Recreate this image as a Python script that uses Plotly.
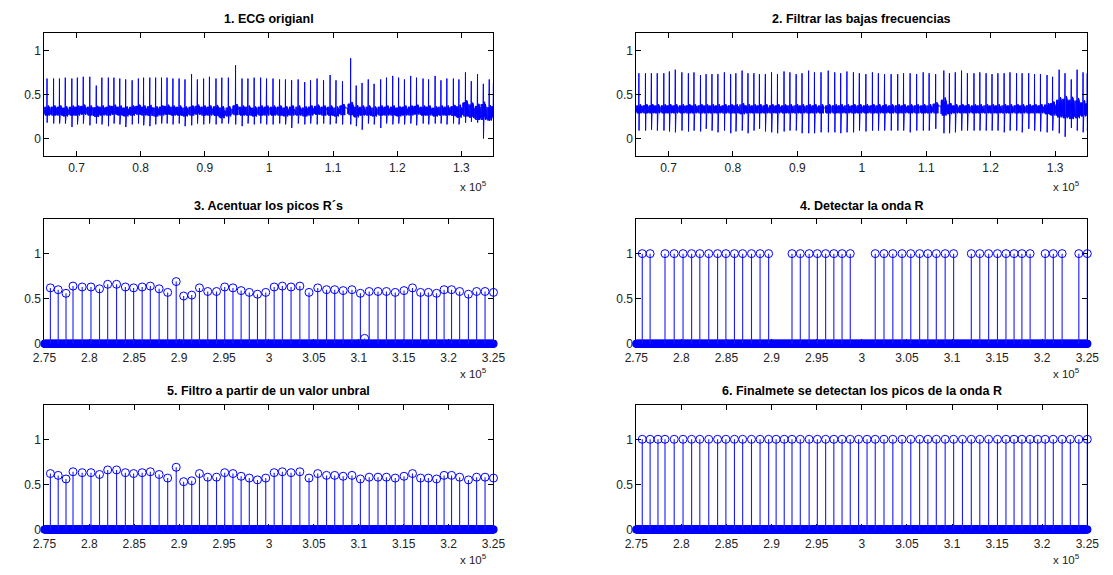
import plotly.graph_objects as go

W, H = 1113, 575
OFF = 8                      # page body margin of the written html
FW, FH = W - OFF, H - OFF
COL = [(33, 492), (638, 1099)]
ROW = [(33, 158), (222, 348), (410, 536)]
FONT = "Liberation Sans, Arial, Helvetica, sans-serif"
BLUE = "#0000ff"

# ---------------- top row: ECG (beats) ----------------
beat_pos = [65400, 66420, 67340, 68250, 69270, 70130, 71050, 72070, 73080, 73950,
            74960, 75830, 76740, 77660, 78670, 79640, 80450, 81420, 82330, 83250,
            84110, 85030, 85990, 86910, 87930, 88840, 89810, 90720, 91740, 92650,
            93670, 94790, 95800, 96720, 97690, 98700, 99620, 100630, 101650, 102570,
            103530, 104550, 105570, 106480, 107500, 108510, 109530, 110450, 111460, 112730,
            113600, 114510, 115480, 116390, 117410, 118320, 119290, 120210, 121120, 122090,
            123000, 124020, 124880, 125900, 126810, 127730, 128750, 129610, 130630, 131540,
            132510, 133420, 134340, 134990]

peaks1 = [0.68, 0.68, 0.68, 0.69, 0.68, 0.69, 0.70, 0.70, 0.60, 0.69,
          0.69, 0.69, 0.68, 0.67, 0.66, 0.68, 0.69, 0.69, 0.69, 0.69,
          0.69, 0.68, 0.68, 0.67, 0.73, 0.67, 0.68, 0.70, 0.68, 0.69,
          0.69, 0.83, 0.68, 0.68, 0.69, 0.69, 0.68, 0.68, 0.67, 0.67,
          0.66, 0.67, 0.64, 0.66, 0.68, 0.66, 0.72, 0.66, 0.65, 0.91,
          0.60, 0.63, 0.67, 0.62, 0.67, 0.69, 0.71, 0.69, 0.67, 0.71,
          0.69, 0.68, 0.67, 0.71, 0.66, 0.68, 0.68, 0.67, 0.75, 0.65,
          0.73, 0.62, 0.67, 0.63]
troughs1 = [0.18, 0.17, 0.17, 0.17, 0.13, 0.16, 0.17, 0.15, 0.17, 0.16,
            0.14, 0.17, 0.16, 0.13, 0.16, 0.17, 0.15, 0.14, 0.16, 0.17,
            0.17, 0.16, 0.17, 0.14, 0.15, 0.17, 0.16, 0.17, 0.16, 0.17,
            0.17, 0.16, 0.14, 0.17, 0.16, 0.17, 0.16, 0.16, 0.17, 0.16,
            0.12, 0.17, 0.16, 0.17, 0.16, 0.17, 0.16, 0.17, 0.16, 0.16,
            0.14, 0.10, 0.17, 0.16, 0.12, 0.17, 0.16, 0.17, 0.16, 0.17,
            0.15, 0.17, 0.16, 0.17, 0.17, 0.16, 0.17, 0.16, 0.18, 0.19,
            0.18, 0.00, 0.20, 0.22]
base1 = [0.31, 0.31, 0.31, 0.30, 0.31, 0.31, 0.32, 0.31, 0.30, 0.31,
         0.31, 0.32, 0.31, 0.30, 0.31, 0.32, 0.31, 0.31, 0.30, 0.31,
         0.32, 0.31, 0.31, 0.30, 0.31, 0.32, 0.31, 0.31, 0.31, 0.29,
         0.30, 0.32, 0.31, 0.31, 0.30, 0.31, 0.31, 0.31, 0.31, 0.30,
         0.31, 0.31, 0.30, 0.31, 0.32, 0.31, 0.31, 0.30, 0.32, 0.33,
         0.30, 0.31, 0.31, 0.30, 0.31, 0.31, 0.31, 0.30, 0.31, 0.31,
         0.32, 0.31, 0.31, 0.30, 0.31, 0.31, 0.31, 0.30, 0.33, 0.31,
         0.29, 0.30, 0.28, 0.30]
band1 = [0.05, 0.05, 0.05, 0.05, 0.05, 0.05, 0.05, 0.05, 0.055, 0.05,
         0.05, 0.05, 0.05, 0.05, 0.05, 0.05, 0.05, 0.055, 0.05, 0.05,
         0.05, 0.05, 0.05, 0.05, 0.05, 0.05, 0.05, 0.05, 0.055, 0.06,
         0.05, 0.055, 0.05, 0.05, 0.05, 0.05, 0.05, 0.05, 0.05, 0.05,
         0.05, 0.05, 0.05, 0.05, 0.05, 0.05, 0.05, 0.05, 0.055, 0.065,
         0.06, 0.05, 0.05, 0.05, 0.05, 0.05, 0.05, 0.05, 0.05, 0.05,
         0.05, 0.05, 0.05, 0.05, 0.05, 0.05, 0.055, 0.065, 0.08, 0.075,
         0.08, 0.09, 0.075, 0.065]

peaks2 = [0.74, 0.74, 0.74, 0.74, 0.74, 0.76, 0.78, 0.75, 0.74, 0.75,
          0.72, 0.73, 0.73, 0.73, 0.75, 0.73, 0.74, 0.77, 0.74, 0.74,
          0.73, 0.73, 0.75, 0.73, 0.76, 0.75, 0.73, 0.74, 0.77, 0.75,
          0.75, 0.77, 0.75, 0.74, 0.76, 0.75, 0.74, 0.73, 0.75, 0.74,
          0.73, 0.73, 0.73, 0.74, 0.74, 0.73, 0.75, 0.74, 0.73, 0.77,
          0.74, 0.75, 0.77, 0.74, 0.74, 0.75, 0.74, 0.73, 0.74, 0.74,
          0.75, 0.74, 0.74, 0.74, 0.73, 0.73, 0.72, 0.70, 0.78, 0.74,
          0.67, 0.78, 0.75, 0.74]
troughs2 = [0.09, 0.09, 0.10, 0.09, 0.09, 0.08, 0.07, 0.09, 0.08, 0.09,
            0.08, 0.11, 0.09, 0.07, 0.09, 0.06, 0.08, 0.09, 0.06, 0.09,
            0.11, 0.08, 0.07, 0.06, 0.08, 0.09, 0.09, 0.06, 0.06, 0.06,
            0.07, 0.07, 0.07, 0.06, 0.07, 0.07, 0.09, 0.08, 0.09, 0.09,
            0.09, 0.09, 0.09, 0.09, 0.07, 0.09, 0.09, 0.09, 0.11, 0.06,
            0.06, 0.07, 0.09, 0.09, 0.09, 0.09, 0.09, 0.09, 0.09, 0.07,
            0.09, 0.09, 0.07, 0.11, 0.09, 0.08, 0.07, 0.09, 0.06, 0.02,
            0.12, 0.09, 0.07, 0.09]
base2 = [0.33, 0.33, 0.33, 0.33, 0.33, 0.33, 0.33, 0.33, 0.33, 0.33,
         0.33, 0.33, 0.33, 0.33, 0.33, 0.33, 0.33, 0.33, 0.33, 0.33,
         0.33, 0.33, 0.33, 0.33, 0.33, 0.33, 0.33, 0.33, 0.33, 0.33,
         0.33, 0.33, 0.33, 0.33, 0.33, 0.33, 0.33, 0.33, 0.33, 0.33,
         0.33, 0.33, 0.33, 0.33, 0.33, 0.33, 0.33, 0.33, 0.34, 0.35,
         0.33, 0.33, 0.33, 0.33, 0.33, 0.33, 0.33, 0.33, 0.33, 0.33,
         0.33, 0.33, 0.33, 0.33, 0.33, 0.33, 0.33, 0.33, 0.34, 0.34,
         0.33, 0.33, 0.33, 0.33]
band2 = [0.045, 0.045, 0.045, 0.045, 0.045, 0.045, 0.045, 0.045, 0.045, 0.045,
         0.045, 0.045, 0.045, 0.045, 0.045, 0.045, 0.045, 0.055, 0.045, 0.045,
         0.045, 0.045, 0.045, 0.045, 0.045, 0.045, 0.045, 0.045, 0.045, 0.045,
         0.045, 0.045, 0.045, 0.045, 0.045, 0.045, 0.045, 0.045, 0.045, 0.045,
         0.045, 0.045, 0.045, 0.045, 0.045, 0.045, 0.045, 0.045, 0.055, 0.09,
         0.055, 0.045, 0.045, 0.045, 0.045, 0.045, 0.045, 0.045, 0.045, 0.045,
         0.045, 0.045, 0.045, 0.045, 0.045, 0.045, 0.055, 0.07, 0.10, 0.11,
         0.11, 0.10, 0.08, 0.07]

# beat waveform: sample offsets from R peak and relative band excursion ("R"/"S" = peak/trough)
wave_dx = [-450, -420, -390, -360, -330, -300, -270, -240, -210, -180, -150, -120, -90, -60, -30,
           0, 20, 50, 80, 110, 140, 170, 200, 230, 260, 290, 320, 350, 380, 410, 440]
wave_k = [0.2, -0.8, 0.9, -0.6, 1.0, -0.9, 0.7, -1.0, 0.9, -0.7, 1.0, -0.8, 0.6, -1.0, 0.8,
          "R", "S", -0.9, 0.8, -1.0, 1.1, -0.6, 1.3, -0.8, 1.2, -0.9, 1.0, -1.0, 0.8, -0.7, 0.5]

# ---------------- lower rows: stem plots ----------------
beat_x = [275660, 276530, 277400, 278180, 279200, 280180, 281130, 282040, 283030, 284010,
          284930, 285880, 286790, 287770, 288720, 289670, 290500, 291400, 292260, 293180,
          294160, 295070, 295990, 296900, 297810, 298720, 299640, 300580, 301490, 302460,
          303440, 304460, 305430, 306410, 307320, 308260, 309240, 310180, 311160, 312140,
          313080, 314060, 315040, 315980, 316880, 317750, 318660, 319500, 320330, 321230,
          322210, 323120, 324060, 325000]
r_strength = [0.62, 0.60, 0.56, 0.64, 0.63, 0.63, 0.61, 0.66, 0.66, 0.63,
              0.62, 0.63, 0.64, 0.61, 0.57, 0.69, 0.53, 0.54, 0.62, 0.58,
              0.58, 0.63, 0.62, 0.59, 0.57, 0.55, 0.57, 0.63, 0.64, 0.63,
              0.64, 0.57, 0.62, 0.60, 0.60, 0.59, 0.60, 0.56, 0.58, 0.58,
              0.58, 0.57, 0.59, 0.62, 0.57, 0.57, 0.56, 0.60, 0.60, 0.58,
              0.55, 0.58, 0.58, 0.57]
extra_x = [310650]
extra_v = [0.06]
detected = [1, 1, 0, 1, 1, 1, 1, 1, 1, 1,
            1, 1, 1, 1, 1, 1, 0, 0, 1, 1,
            1, 1, 1, 1, 1, 1, 0, 0, 1, 1,
            1, 1, 1, 1, 1, 1, 1, 1, 0, 1,
            1, 1, 1, 1, 1, 1, 1, 0, 1, 1,
            1, 0, 1, 1]
final_peaks = [1, 1, 1, 1, 1, 1, 1, 1, 1, 1,
               1, 1, 1, 1, 1, 1, 1, 1, 1, 1,
               1, 1, 1, 1, 1, 1, 1, 1, 1, 1,
               1, 1, 1, 1, 1, 1, 1, 1, 1, 1,
               1, 1, 1, 1, 1, 1, 1, 1, 1, 1,
               1, 1, 1, 1]
stem_start, stem_end, stem_step = 275000, 325000, 50   # zero-valued samples of the stem signal

top_ticks = [70000, 80000, 90000, 100000, 110000, 120000, 130000]
top_ticktext = ["0.7", "0.8", "0.9", "1", "1.1", "1.2", "1.3"]
bot_ticks = [275000, 280000, 285000, 290000, 295000, 300000, 305000, 310000, 315000, 320000, 325000]
bot_ticktext = ["2.75", "2.8", "2.85", "2.9", "2.95", "3", "3.05", "3.1", "3.15", "3.2", "3.25"]
y_ticks = [0, 0.5, 1]
y_ticktext = ["0", "0.5", "1"]

titles = ["1. ECG origianl", "2. Filtrar las bajas frecuencias",
          "3. Acentuar los picos R\u00b4s", "4. Detectar la onda R",
          "5. Filtro a partir de un valor unbral",
          "6. Finalmete se detectan los picos de la onda R"]


def px(p):
    return (p - OFF) / FW


def py(p):
    return 1 - (p - OFF) / FH


def ecg_series(peaks, troughs, base, band):
    pts = []
    for i, b in enumerate(beat_pos):
        for dx, k in zip(wave_dx, wave_k):
            if k == "R":
                v = peaks[i]
            elif k == "S":
                v = troughs[i]
            else:
                v = base[i] + band[i] * k
            pts.append((b + dx, v))
    pts.sort(key=lambda p: p[0])
    return [p[0] for p in pts], [p[1] for p in pts]


def stem_traces(xs, vs, ax):
    xa, ya = ("x" + ax, "y" + ax)
    zx = list(range(stem_start, stem_end + 1, stem_step))
    zt = go.Scatter(x=zx, y=[0] * len(zx), mode="markers", xaxis=xa, yaxis=ya,
                    marker=dict(symbol="circle-open", size=7, color=BLUE, line=dict(width=1.2, color=BLUE)),
                    cliponaxis=False, showlegend=False, hoverinfo="skip")
    sx, sy, mx, my = [], [], [], []
    for x, v in zip(xs, vs):
        if v != 0:
            sx += [x, x, None]
            sy += [0, v, None]
            mx.append(x)
            my.append(v)
    lt = go.Scatter(x=sx, y=sy, mode="lines", xaxis=xa, yaxis=ya,
                    line=dict(color="#1a1aff", width=1.1), showlegend=False, hoverinfo="skip")
    mt = go.Scatter(x=mx, y=my, mode="markers", xaxis=xa, yaxis=ya,
                    marker=dict(symbol="circle-open", size=8, color=BLUE, line=dict(width=1, color=BLUE)),
                    cliponaxis=False, showlegend=False)
    return [zt, lt, mt]


fig = go.Figure()
e1x, e1y = ecg_series(peaks1, troughs1, base1, band1)
e2x, e2y = ecg_series(peaks2, troughs2, base2, band2)
fig.add_trace(go.Scatter(x=e1x, y=e1y, mode="lines", line=dict(color=BLUE, width=1),
                         xaxis="x", yaxis="y", showlegend=False))
fig.add_trace(go.Scatter(x=e2x, y=e2y, mode="lines", line=dict(color=BLUE, width=1),
                         xaxis="x2", yaxis="y2", showlegend=False))
for t in stem_traces(beat_x + extra_x, r_strength + extra_v, "3"):
    fig.add_trace(t)
for t in stem_traces(beat_x, detected, "4"):
    fig.add_trace(t)
for t in stem_traces(beat_x, r_strength, "5"):
    fig.add_trace(t)
for t in stem_traces(beat_x, final_peaks, "6"):
    fig.add_trace(t)

layout = dict(width=FW, height=FH, margin=dict(l=0, r=0, t=0, b=0),
              paper_bgcolor="white", plot_bgcolor="white", showlegend=False)
annotations = []
for k in range(6):
    r, c = divmod(k, 2)
    x0, x1 = COL[c]
    y0, y1 = ROW[r]
    top = r == 0
    ax = dict(domain=[px(x0), px(x1)], anchor="y%d" % (k + 1),
              range=[65000, 135000] if top else [275000, 325000],
              tickmode="array", tickvals=top_ticks if top else bot_ticks,
              ticktext=top_ticktext if top else bot_ticktext,
              showline=True, linecolor="black", linewidth=1, mirror="ticks",
              ticks="inside", ticklen=5, tickcolor="black", showgrid=False, zeroline=False,
              ticklabelstandoff=0 if top else 3,
              tickfont=dict(family=FONT, size=12, color="#222"),
              layer="above traces" if top else "below traces")
    ay = dict(domain=[py(y1), py(y0)], anchor="x%d" % (k + 1),
              range=[-0.2, 1.2] if top else [0, 1.38],
              tickmode="array", tickvals=y_ticks, ticktext=y_ticktext,
              showline=True, linecolor="black", linewidth=1, mirror="ticks",
              ticks="inside", ticklen=5, tickcolor="black", showgrid=False, zeroline=False,
              tickfont=dict(family=FONT, size=12, color="#222"),
              layer="above traces" if top else "below traces")
    sfx = "" if k == 0 else str(k + 1)
    layout["xaxis" + sfx] = ax
    layout["yaxis" + sfx] = ay
    annotations.append(dict(text="<b>%s</b>" % titles[k], xref="paper", yref="paper",
                            x=px((x0 + x1) / 2), y=py(y0 - 14), xanchor="center",
                            yanchor="middle", showarrow=False,
                            font=dict(family=FONT, size=12.5, color="black")))
    annotations.append(dict(text="x 10<sup>5</sup>", xref="paper", yref="paper",
                            x=px(x1 - 5), y=py(y1 + 30), xanchor="right",
                            yanchor="middle", showarrow=False,
                            font=dict(family=FONT, size=11.5, color="#222")))
layout["annotations"] = annotations
fig.update_layout(**layout)
fig.write_html("out.html")
